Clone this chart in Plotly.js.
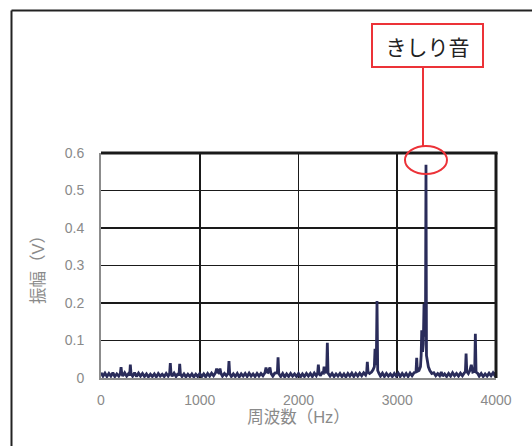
<!DOCTYPE html>
<html>
<head>
<meta charset="utf-8">
<script src="https://cdn.plot.ly/plotly-3.0.1.min.js"></script>
<style>html,body{margin:0;padding:0;background:#fff;}</style>
</head>
<body>
<div id="chart" style="width:532px;height:446px;"></div>
<script>
const freqHz = [
0,20,40,60,80,100,120,140,160,180,
196,203,210,220,240,260,280,290,297,304,
320,340,360,380,400,420,440,460,480,500,
520,540,560,580,600,620,640,660,680,695,
702,709,720,740,760,780,790,797,804,820,
840,860,880,900,920,940,960,980,1000,1020,
1040,1060,1080,1100,1120,1140,1160,1171,1180,1190,
1205,1215,1230,1250,1270,1289,1296,1303,1320,1340,
1360,1380,1400,1420,1440,1460,1480,1500,1520,1540,
1560,1580,1600,1620,1640,1660,1671,1680,1690,1711,
1720,1740,1760,1786,1793,1800,1820,1840,1860,1880,
1900,1920,1940,1960,1980,2000,2020,2040,2060,2080,
2100,2120,2140,2160,2180,2194,2201,2208,2220,2240,
2252,2259,2266,2285,2292,2299,2320,2340,2360,2380,
2400,2420,2440,2460,2480,2500,2520,2540,2560,2580,
2600,2620,2640,2660,2680,2690,2697,2704,2720,2740,
2755,2768,2775,2782,2788,2795,2802,2815,2830,2850,
2870,2890,2910,2930,2950,2970,2990,3010,3030,3050,
3070,3090,3110,3130,3150,3170,3190,3197,3204,3220,
3235,3242,3248,3256,3264,3271,3280,3286,3291,3296,
3305,3315,3330,3350,3370,3390,3410,3430,3446,3460,
3480,3500,3520,3540,3560,3580,3600,3620,3640,3660,
3680,3690,3697,3704,3720,3735,3750,3765,3784,3791,
3798,3815,3830,3850,3870,3890,3910,3930,3950,3970,
3985,4000];
const ampV = [
0.014,0.005,0.013,0.004,0.012,0.005,0.014,0.004,0.011,0.005,
0.012,0.029,0.013,0.005,0.014,0.005,0.012,0.006,0.036,0.012,
0.005,0.014,0.004,0.013,0.005,0.012,0.004,0.011,0.003,0.010,
0.004,0.011,0.003,0.012,0.005,0.010,0.004,0.012,0.005,0.012,
0.040,0.012,0.005,0.013,0.004,0.012,0.006,0.038,0.011,0.004,
0.011,0.003,0.010,0.004,0.011,0.003,0.010,0.004,0.012,0.004,
0.011,0.003,0.012,0.005,0.013,0.006,0.014,0.025,0.016,0.014,
0.025,0.012,0.005,0.012,0.006,0.013,0.045,0.012,0.004,0.011,
0.004,0.012,0.003,0.011,0.005,0.012,0.004,0.013,0.005,0.011,
0.004,0.012,0.005,0.012,0.006,0.014,0.028,0.016,0.015,0.028,
0.013,0.005,0.013,0.014,0.055,0.012,0.004,0.012,0.003,0.011,
0.004,0.012,0.005,0.011,0.004,0.012,0.003,0.011,0.004,0.012,
0.005,0.012,0.004,0.013,0.006,0.014,0.036,0.013,0.006,0.014,
0.013,0.030,0.015,0.016,0.094,0.013,0.005,0.012,0.004,0.011,
0.005,0.012,0.004,0.011,0.003,0.012,0.005,0.013,0.004,0.012,
0.005,0.013,0.006,0.014,0.008,0.015,0.043,0.016,0.012,0.016,
0.022,0.030,0.078,0.035,0.040,0.205,0.020,0.012,0.005,0.013,
0.004,0.012,0.005,0.011,0.004,0.012,0.005,0.013,0.004,0.012,
0.005,0.012,0.004,0.013,0.006,0.014,0.016,0.054,0.018,0.020,
0.030,0.060,0.127,0.070,0.090,0.197,0.110,0.150,0.569,0.060,
0.040,0.030,0.020,0.012,0.014,0.006,0.012,0.006,0.016,0.005,
0.011,0.004,0.012,0.005,0.014,0.006,0.012,0.005,0.013,0.006,
0.014,0.016,0.065,0.018,0.012,0.020,0.035,0.016,0.018,0.118,
0.016,0.012,0.005,0.012,0.004,0.011,0.005,0.013,0.006,0.014,
0.008,0.015];
const xTicks = [0,1000,2000,3000,4000];
const yTicks = [0,0.1,0.2,0.3,0.4,0.5,0.6];
const yTickText = ['0','0.1','0.2','0.3','0.4','0.5','0.6'];
const xTitle = '周波数（Hz）';
const yTitle = '振幅（V）';
const calloutText = 'きしり音';

const FONT = 'Liberation Sans, Arial, Noto Sans CJK JP, sans-serif';
const GRAY = '#8a8a8a';
const RED = '#ec3238';

const trace = {
  x: freqHz, y: ampV, type: 'scatter', mode: 'lines',
  line: {color: '#2a2c5a', width: 2.8}, hoverinfo: 'skip', cliponaxis: true
};

const layout = {
  width: 532, height: 446,
  margin: {l: 101, r: 36, t: 153, b: 68},
  paper_bgcolor: '#fff', plot_bgcolor: '#fff',
  showlegend: false,
  font: {family: FONT, color: GRAY, size: 13},
  xaxis: {
    range: [0, 4000], tickvals: xTicks, ticktext: xTicks.map(String),
    showgrid: true, gridcolor: '#1a1a1a', gridwidth: 1.6,
    zeroline: false, showline: true, linecolor: '#8c8c8c', linewidth: 2,
    ticks: '', ticklabelstandoff: 8,
    tickfont: {family: FONT, size: 14, color: GRAY},
    title: {text: xTitle, font: {family: FONT, size: 16.5, color: GRAY}, standoff: 1}
  },
  yaxis: {
    range: [0, 0.6], tickvals: yTicks, ticktext: yTickText,
    showgrid: true, gridcolor: '#1a1a1a', gridwidth: 1.6,
    zeroline: false, showline: true, linecolor: '#8c8c8c', linewidth: 2,
    ticks: '', ticklabelstandoff: 12,
    tickfont: {family: FONT, size: 14, color: GRAY},
    title: {text: yTitle, font: {family: FONT, size: 16.5, color: GRAY}, standoff: 16}
  },
  shapes: [
    {type: 'line', xref: 'paper', yref: 'paper', x0: 0, x1: 1.004, y0: 1, y1: 1, line: {color: '#1a1a1a', width: 3}},
    {type: 'line', xref: 'paper', yref: 'paper', x0: 1, x1: 1, y0: 0, y1: 1, line: {color: '#1a1a1a', width: 3}},
    {type: 'line', xref: 'paper', yref: 'paper', x0: -0.2266, x1: -0.2266, y0: 1.6333, y1: -0.4, line: {color: '#222', width: 2}},
    {type: 'line', xref: 'paper', yref: 'paper', x0: -0.2266, x1: 1.2, y0: 1.6333, y1: 1.6333, line: {color: '#222', width: 2}},
    {type: 'line', xref: 'paper', yref: 'paper', x0: 0.8152, x1: 0.8152, y0: 1.3778, y1: 1.0311, line: {color: RED, width: 2}},
    {type: 'circle', xref: 'paper', yref: 'paper', x0: 0.7696, x1: 0.8759, y0: 0.9067, y1: 1.0311, line: {color: RED, width: 2}}
  ],
  annotations: [
    {xref: 'paper', yref: 'paper', x: 0.8266, y: 1.4778, xanchor: 'center', yanchor: 'middle',
     text: calloutText, showarrow: false, width: 109, height: 41, borderpad: 0,
     bordercolor: RED, borderwidth: 2, bgcolor: '#fff',
     font: {family: 'Noto Sans CJK JP, sans-serif', size: 21, color: '#222'}}
  ]
};

Plotly.newPlot('chart', [trace], layout, {displayModeBar: false, staticPlot: true});
</script>
</body>
</html>
